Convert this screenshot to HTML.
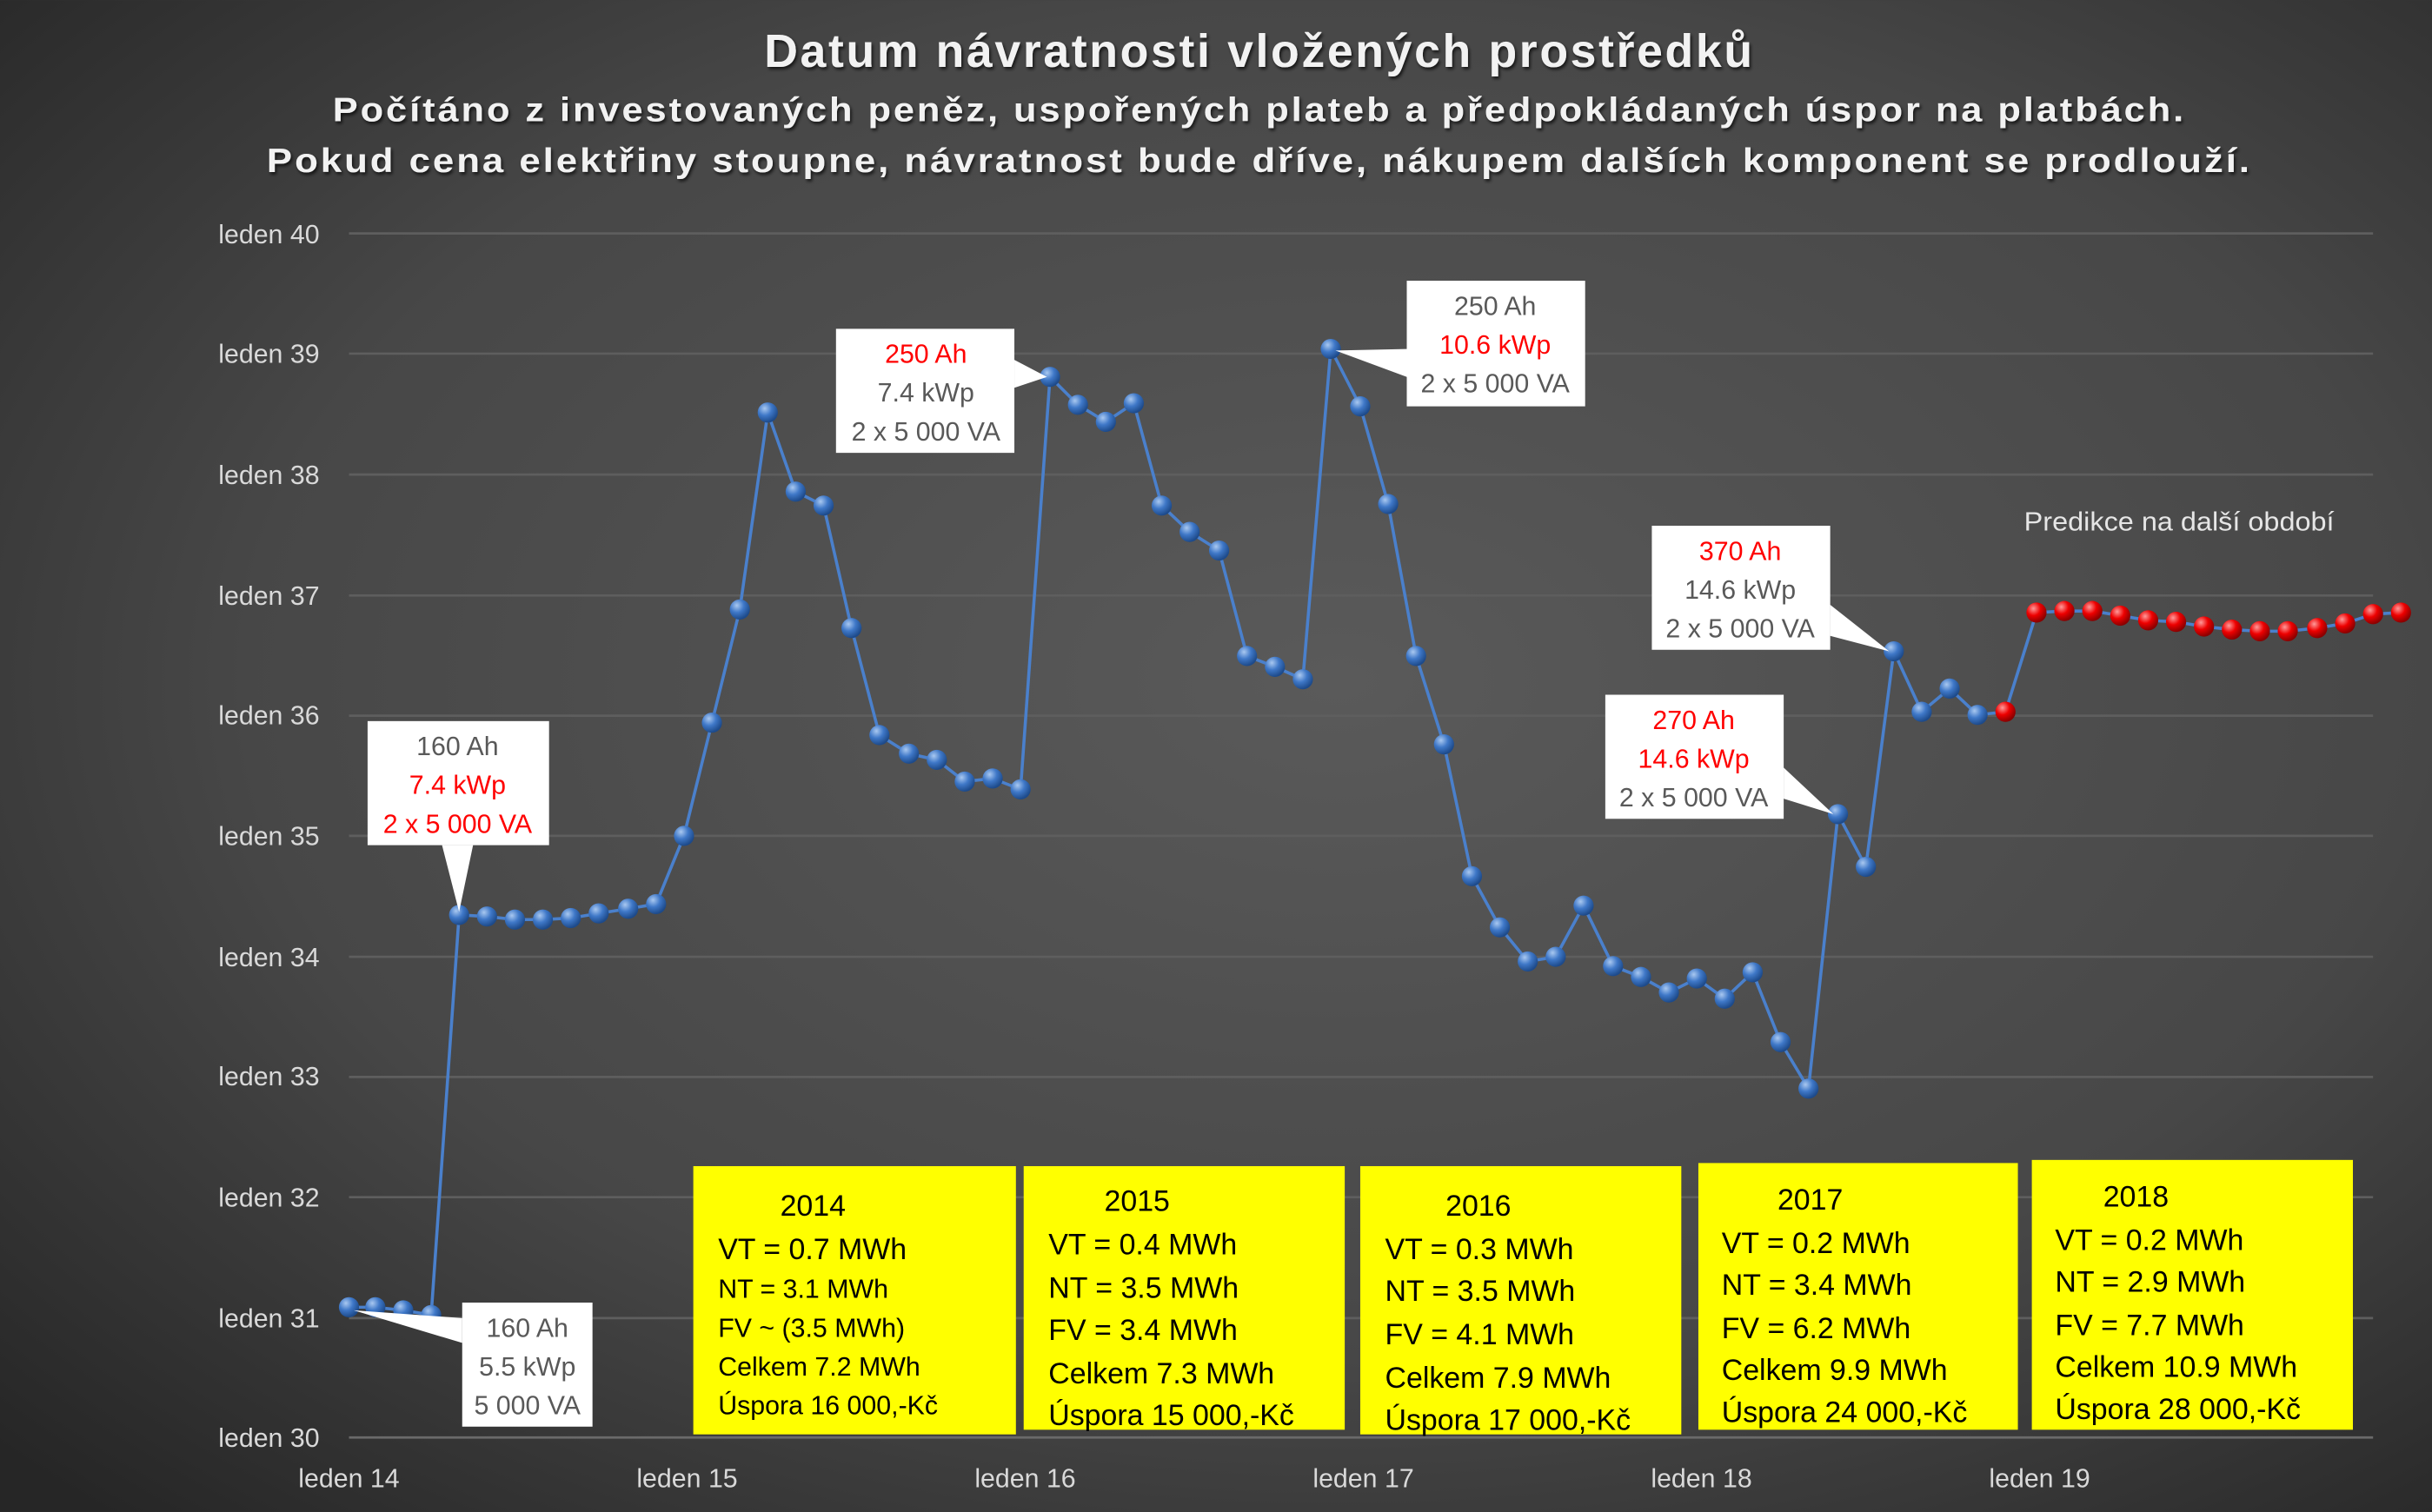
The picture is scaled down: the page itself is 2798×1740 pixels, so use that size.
<!DOCTYPE html>
<html><head><meta charset="utf-8"><style>
html,body{margin:0;padding:0;background:#3a3a3a;}
svg{display:block;}
text{font-family:"Liberation Sans",sans-serif;}
</style></head><body>
<svg width="2798" height="1740" viewBox="0 0 1568 975" xmlns="http://www.w3.org/2000/svg">
<defs>
<radialGradient id="bg" cx="0.55" cy="0.45" r="0.75">
<stop offset="0" stop-color="#5a5a5a"/><stop offset="0.6" stop-color="#474747"/><stop offset="1" stop-color="#262626"/>
</radialGradient>
<radialGradient id="bb" cx="0.35" cy="0.3" r="0.7">
<stop offset="0" stop-color="#a9c8f0"/><stop offset="0.5" stop-color="#3f78c8"/><stop offset="1" stop-color="#1d4a8a"/>
</radialGradient>
<radialGradient id="rb" cx="0.35" cy="0.3" r="0.7">
<stop offset="0" stop-color="#ff9a9a"/><stop offset="0.5" stop-color="#ee0000"/><stop offset="1" stop-color="#8a0000"/>
</radialGradient>
<filter id="sh"><feDropShadow dx="1" dy="1.5" stdDeviation="1" flood-color="#000" flood-opacity="0.7"/></filter>
</defs>
<rect width="1568" height="975" fill="url(#bg)"/>
<g fill="#f2f2f2" font-weight="bold" text-anchor="middle" filter="url(#sh)" letter-spacing="1.5">
<text x="812" y="43" font-size="30">Datum návratnosti vložených prostředků</text>
<text x="812" y="78" font-size="22" textLength="1195" lengthAdjust="spacingAndGlyphs">Počítáno z investovaných peněz, uspořených plateb a předpokládaných úspor na platbách.</text>
<text x="812" y="111" font-size="22" textLength="1280" lengthAdjust="spacingAndGlyphs">Pokud cena elektřiny stoupne, návratnost bude dříve, nákupem dalších komponent se prodlouží.</text>
</g>
<g stroke="#5e5e5e" stroke-width="1.5">
<line x1="225" y1="150.5" x2="1530" y2="150.5"/><line x1="225" y1="228" x2="1530" y2="228"/>
<line x1="225" y1="306" x2="1530" y2="306"/><line x1="225" y1="384" x2="1530" y2="384"/>
<line x1="225" y1="461.5" x2="1530" y2="461.5"/><line x1="225" y1="539" x2="1530" y2="539"/>
<line x1="225" y1="617" x2="1530" y2="617"/><line x1="225" y1="694.5" x2="1530" y2="694.5"/>
<line x1="225" y1="772" x2="1530" y2="772"/><line x1="225" y1="850" x2="1530" y2="850"/>
<line x1="225" y1="927" x2="1530" y2="927" stroke="#6a6a6a"/>
</g>
<g fill="#d9d9d9" font-size="17" text-anchor="end">
<text x="206" y="157">leden 40</text><text x="206" y="234">leden 39</text><text x="206" y="312">leden 38</text>
<text x="206" y="390">leden 37</text><text x="206" y="467">leden 36</text><text x="206" y="545">leden 35</text>
<text x="206" y="623">leden 34</text><text x="206" y="700">leden 33</text><text x="206" y="778">leden 32</text>
<text x="206" y="856">leden 31</text><text x="206" y="933">leden 30</text>
</g>
<g fill="#d9d9d9" font-size="17" text-anchor="middle">
<text x="225" y="959">leden 14</text><text x="443" y="959">leden 15</text><text x="661" y="959">leden 16</text>
<text x="879" y="959">leden 17</text><text x="1097" y="959">leden 18</text><text x="1315" y="959">leden 19</text>
</g>
<text x="1305" y="342" fill="#e6e6e6" font-size="17" textLength="200" lengthAdjust="spacingAndGlyphs">Predikce na další období</text>
<polyline fill="none" stroke="#4a80cc" stroke-width="2" points="225,843 242,843 260,845 278,848 296,590 314,591 332,593 350,593 368,592 386,589 405,586 423,583 441,539 459,466 477,393 495,266 513,317 531,326 549,405 567,474 586,486 604,490 622,504 640,502 658,509 677,243 695,261 713,272 731,260 749,326 767,343 786,355 804,423 822,430 840,438 858,225 877,262 895,325 913,423 931,480 949,565 967,598 985,620 1003,617 1021,584 1040,623 1058,630 1076,640 1094,631 1112,644 1130,627 1148,672 1166,702 1185,525 1203,559 1221,420 1239,459 1257,444 1275,461 1293,459"/>
<polyline fill="none" stroke="#4a80cc" stroke-width="2" points="1293,459 1313,395 1331,394 1349,394 1367,397 1385,400 1403,401 1421,404 1439,406 1457,407 1475,407 1494,405 1512,402 1530,396 1548,395"/>
<g fill="url(#bb)">
<circle cx="225" cy="843" r="6.5"/><circle cx="242" cy="843" r="6.5"/><circle cx="260" cy="845" r="6.5"/><circle cx="278" cy="848" r="6.5"/><circle cx="296" cy="590" r="6.5"/><circle cx="314" cy="591" r="6.5"/><circle cx="332" cy="593" r="6.5"/><circle cx="350" cy="593" r="6.5"/><circle cx="368" cy="592" r="6.5"/><circle cx="386" cy="589" r="6.5"/><circle cx="405" cy="586" r="6.5"/><circle cx="423" cy="583" r="6.5"/><circle cx="441" cy="539" r="6.5"/><circle cx="459" cy="466" r="6.5"/><circle cx="477" cy="393" r="6.5"/><circle cx="495" cy="266" r="6.5"/><circle cx="513" cy="317" r="6.5"/><circle cx="531" cy="326" r="6.5"/><circle cx="549" cy="405" r="6.5"/><circle cx="567" cy="474" r="6.5"/><circle cx="586" cy="486" r="6.5"/><circle cx="604" cy="490" r="6.5"/><circle cx="622" cy="504" r="6.5"/><circle cx="640" cy="502" r="6.5"/><circle cx="658" cy="509" r="6.5"/><circle cx="677" cy="243" r="6.5"/><circle cx="695" cy="261" r="6.5"/><circle cx="713" cy="272" r="6.5"/><circle cx="731" cy="260" r="6.5"/><circle cx="749" cy="326" r="6.5"/><circle cx="767" cy="343" r="6.5"/><circle cx="786" cy="355" r="6.5"/><circle cx="804" cy="423" r="6.5"/><circle cx="822" cy="430" r="6.5"/><circle cx="840" cy="438" r="6.5"/><circle cx="858" cy="225" r="6.5"/><circle cx="877" cy="262" r="6.5"/><circle cx="895" cy="325" r="6.5"/><circle cx="913" cy="423" r="6.5"/><circle cx="931" cy="480" r="6.5"/><circle cx="949" cy="565" r="6.5"/><circle cx="967" cy="598" r="6.5"/><circle cx="985" cy="620" r="6.5"/><circle cx="1003" cy="617" r="6.5"/><circle cx="1021" cy="584" r="6.5"/><circle cx="1040" cy="623" r="6.5"/><circle cx="1058" cy="630" r="6.5"/><circle cx="1076" cy="640" r="6.5"/><circle cx="1094" cy="631" r="6.5"/><circle cx="1112" cy="644" r="6.5"/><circle cx="1130" cy="627" r="6.5"/><circle cx="1148" cy="672" r="6.5"/><circle cx="1166" cy="702" r="6.5"/><circle cx="1185" cy="525" r="6.5"/><circle cx="1203" cy="559" r="6.5"/><circle cx="1221" cy="420" r="6.5"/><circle cx="1239" cy="459" r="6.5"/><circle cx="1257" cy="444" r="6.5"/><circle cx="1275" cy="461" r="6.5"/>
</g>
<g fill="url(#rb)">
<circle cx="1293" cy="459" r="6.5"/><circle cx="1313" cy="395" r="6.5"/><circle cx="1331" cy="394" r="6.5"/><circle cx="1349" cy="394" r="6.5"/><circle cx="1367" cy="397" r="6.5"/><circle cx="1385" cy="400" r="6.5"/><circle cx="1403" cy="401" r="6.5"/><circle cx="1421" cy="404" r="6.5"/><circle cx="1439" cy="406" r="6.5"/><circle cx="1457" cy="407" r="6.5"/><circle cx="1475" cy="407" r="6.5"/><circle cx="1494" cy="405" r="6.5"/><circle cx="1512" cy="402" r="6.5"/><circle cx="1530" cy="396" r="6.5"/><circle cx="1548" cy="395" r="6.5"/>
</g>
<g fill="#fff">
<rect x="237" y="465" width="117" height="80"/><polygon points="285,545 305,545 296,588"/>
<rect x="298" y="840" width="84" height="80"/><polygon points="298,850 298,866 228,845"/>
<rect x="539" y="212" width="115" height="80"/><polygon points="654,232 654,250 675,243"/>
<rect x="907" y="181" width="115" height="81"/><polygon points="907,225 907,243 861,226"/>
<rect x="1065" y="339" width="115" height="80"/><polygon points="1180,390 1180,410 1218,420"/>
<rect x="1035" y="448" width="115" height="80"/><polygon points="1150,495 1150,515 1182,525"/>
</g>
<g font-size="17" text-anchor="middle" fill="#595959">
<text x="295" y="487">160 Ah</text><text x="295" y="512" fill="#ff0000">7.4 kWp</text><text x="295" y="537" fill="#ff0000">2 x 5 000 VA</text>
<text x="340" y="862">160 Ah</text><text x="340" y="887">5.5 kWp</text><text x="340" y="912">5 000 VA</text>
<text x="597" y="234" fill="#ff0000">250 Ah</text><text x="597" y="259">7.4 kWp</text><text x="597" y="284">2 x 5 000 VA</text>
<text x="964" y="203">250 Ah</text><text x="964" y="228" fill="#ff0000">10.6 kWp</text><text x="964" y="253">2 x 5 000 VA</text>
<text x="1122" y="361" fill="#ff0000">370 Ah</text><text x="1122" y="386">14.6 kWp</text><text x="1122" y="411">2 x 5 000 VA</text>
<text x="1092" y="470" fill="#ff0000">270 Ah</text><text x="1092" y="495" fill="#ff0000">14.6 kWp</text><text x="1092" y="520">2 x 5 000 VA</text>
</g>
<g fill="#ffff00">
<rect x="447" y="752" width="208" height="173"/><rect x="660" y="752" width="207" height="170"/>
<rect x="877" y="752" width="207" height="173"/><rect x="1095" y="750" width="206" height="172"/>
<rect x="1310" y="748" width="207" height="174"/>
</g>
<g fill="#000" font-size="19">
<text x="503" y="784">2014</text><text x="463" y="812">VT = 0.7 MWh</text>
<text x="463" y="837" font-size="17">NT = 3.1 MWh</text><text x="463" y="862" font-size="17">FV ~ (3.5 MWh)</text>
<text x="463" y="887" font-size="17">Celkem 7.2 MWh</text><text x="463" y="912" font-size="17">Úspora 16 000,-Kč</text>
<text x="712" y="781">2015</text><text x="676" y="809">VT = 0.4 MWh</text><text x="676" y="837">NT = 3.5 MWh</text>
<text x="676" y="864">FV = 3.4 MWh</text><text x="676" y="892">Celkem 7.3 MWh</text><text x="676" y="919">Úspora 15 000,-Kč</text>
<text x="932" y="784">2016</text><text x="893" y="812">VT = 0.3 MWh</text><text x="893" y="839">NT = 3.5 MWh</text>
<text x="893" y="867">FV = 4.1 MWh</text><text x="893" y="895">Celkem 7.9 MWh</text><text x="893" y="922">Úspora 17 000,-Kč</text>
<text x="1146" y="780">2017</text><text x="1110" y="808">VT = 0.2 MWh</text><text x="1110" y="835">NT = 3.4 MWh</text>
<text x="1110" y="863">FV = 6.2 MWh</text><text x="1110" y="890">Celkem 9.9 MWh</text><text x="1110" y="917">Úspora 24 000,-Kč</text>
<text x="1356" y="778">2018</text><text x="1325" y="806">VT = 0.2 MWh</text><text x="1325" y="833">NT = 2.9 MWh</text>
<text x="1325" y="861">FV = 7.7 MWh</text><text x="1325" y="888">Celkem 10.9 MWh</text><text x="1325" y="915">Úspora 28 000,-Kč</text>
</g>
</svg>
</body></html>
